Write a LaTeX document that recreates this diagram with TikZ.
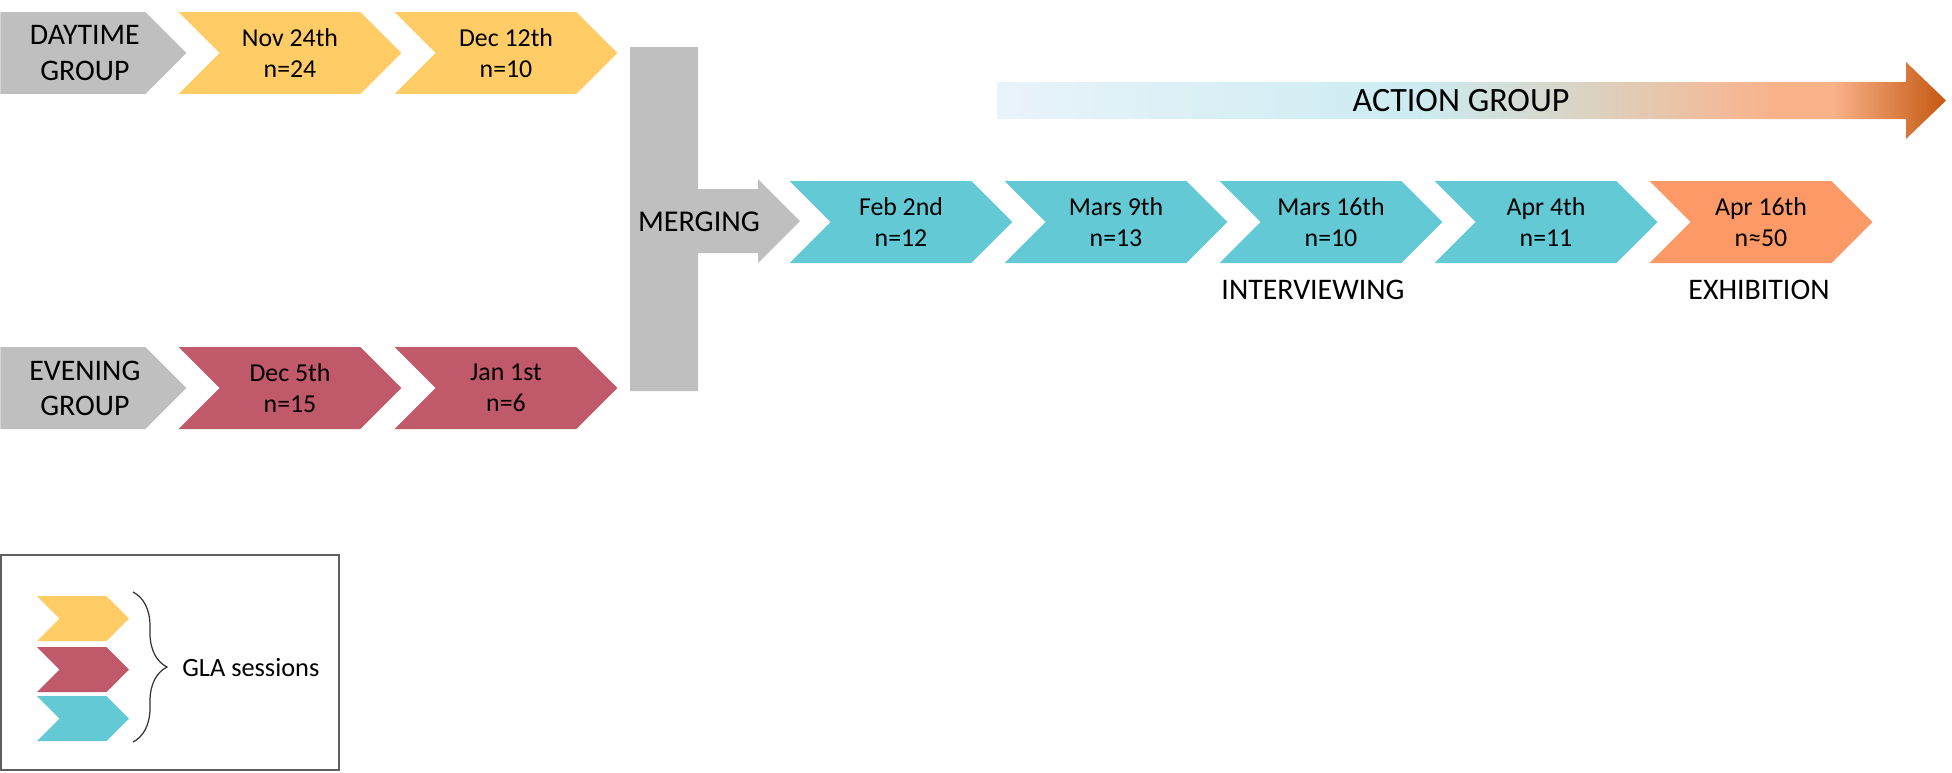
\documentclass[tikz,border=0pt]{standalone}
\usepackage{fontspec}
\setmainfont{Carlito}
\usepackage{tikz}
\usetikzlibrary{positioning, shapes.symbols, decorations.pathreplacing}
\definecolor{SunYellow}{RGB}{255,204,102}
\definecolor{WineRed}{RGB}{192,89,106}
\definecolor{TealBlue}{RGB}{99,201,213}
\definecolor{Salmon}{RGB}{252,153,102}
\definecolor{MidGray}{RGB}{191,191,191}
\definecolor{FrameGray}{RGB}{95,95,95}
\definecolor{FadeA}{RGB}{233,243,250}
\definecolor{FadeB}{RGB}{204,236,242}
\definecolor{FadeC}{RGB}{216,214,200}
\definecolor{FadeD}{RGB}{250,178,138}
\definecolor{FadeE}{RGB}{196,88,16}
\pgfdeclarehorizontalshading{actionfade}{100bp}{color(0bp)=(FadeA); color(25bp)=(FadeA);
  color(47bp)=(FadeB); color(55bp)=(FadeC); color(66bp)=(FadeD); color(69bp)=(FadeD);
  color(75bp)=(FadeE); color(100bp)=(FadeE)}
\def\cw{4.46}
\def\ch{1.64}
\tikzset{
  chev/.style={shape=signal, signal from=west, signal to=east, signal pointer angle=90,
    minimum width=\cw cm, minimum height=\ch cm, inner sep=0pt, align=center,
    font=\fontsize{14.7}{17.6}\selectfont},
  chevY/.style={chev, fill=SunYellow},
  chevR/.style={chev, fill=WineRed},
  chevC/.style={chev, fill=TealBlue},
  chevO/.style={chev, fill=Salmon},
  tagtxt/.style={align=center, inner sep=0pt, font=\fontsize{17}{20}\selectfont},
  grouptag/.style={shape=signal, signal to=east, signal pointer angle=90, fill=MidGray,
    minimum width=3.72cm, minimum height=\ch cm, inner sep=0pt,
    label={[tagtxt, xshift=0.24cm]center:{#1}}},
  biglab/.style={font=\fontsize{17.2}{20}\selectfont, inner sep=0pt},
  stagelab/.style={font=\fontsize{17}{20}\selectfont, inner sep=0pt},
  legchev/.style={chev, minimum width=1.84cm, minimum height=0.9cm},
  legtxt/.style={font=\fontsize{15}{18}\selectfont, inner sep=0pt},
}

\begin{document}
\begin{tikzpicture}[x=0.02cm, y=-0.02cm]
  \useasboundingbox (0,0) rectangle (1952,772);
  % daytime and evening groups
  \node[grouptag={DAYTIME\\GROUP}, anchor=west] (day) at (0,53) {};
  \node[chevY] (d1) at (290,53) {Nov 24th\\n=24};
  \node[chevY] (d2) at (506,53) {Dec 12th\\n=10};
  \node[grouptag={EVENING\\GROUP}, anchor=west] (eve) at (0,388) {};
  \node[chevR] (e1) at (290,388) {Dec 5th\\n=15};
  \node[chevR] (e2) at (506,388) {Jan 1st\\n=6};
  % merging bar
  \fill[MidGray] (630,47) -- (698,47) -- (698,189) -- (758,189) -- (758,179) -- (800,221)
    -- (758,263) -- (758,253) -- (698,253) -- (698,391) -- (630,391) -- cycle;
  \node[biglab] (merge) at (699,222) {MERGING};
  % action group
  \shade[shading=actionfade] (997,82) -- (1906,82) -- (1906,62) -- (1946,100.5)
    -- (1906,139) -- (1906,119) -- (997,119) -- cycle;
  \node[biglab, font=\fontsize{19.4}{22}\selectfont] (action) at (1461,101) {ACTION GROUP};
  \foreach \dt/\nn [count=\i from 0] in {Feb 2nd/12, Mars 9th/13, Mars 16th/10, Apr 4th/11}
    \node[chevC] (c\i) at ({901+215*\i},222) {\dt\\n=\nn};
  \node[chevO] (c4) at (1761,222) {Apr 16th\\n≈50};
  \node[stagelab] (interview) at (1313,290) {INTERVIEWING};
  \node[stagelab] (exhib) at (1759,290) {EXHIBITION};
  % legend
  \draw[FrameGray, line width=1.2pt] (1,555) rectangle (339,770);
  \node[legchev, fill=SunYellow] (lY) at (83,618.5) {};
  \node[legchev, fill=WineRed] (lR) at (83,669.5) {};
  \node[legchev, fill=TealBlue] (lC) at (83,718.5) {};
  \coordinate (bt) at (133,592);
  \coordinate (bb) at (133,742);
  \draw[black!80, line width=0.7pt, decorate, decoration={brace, amplitude=0.68cm}] (bt) -- (bb);
  \node[legtxt, anchor=west] (gla) at (182,668) {GLA sessions};
\end{tikzpicture}
\end{document}
